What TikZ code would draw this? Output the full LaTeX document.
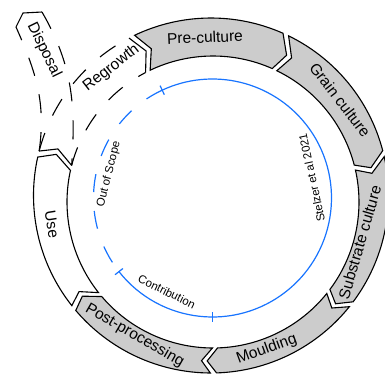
\documentclass[tikz,border=0pt]{standalone}
\usepackage{fontspec}
\setmainfont{Liberation Sans}
\usetikzlibrary{calc}
\definecolor{segfill}{gray}{0.8}
\definecolor{scopeblue}{RGB}{24,116,255}
\tikzset{
  segshape/.style={draw=black, fill=segfill, line width=1.1pt, line join=miter},
  useshape/.style={draw=black, fill=white, line width=1.1pt, line join=miter},
  dashline/.style={draw=black, line width=1.1pt, dash pattern=on 19pt off 19pt},
  solidline/.style={draw=black, line width=1.1pt, line join=miter},
  blueline/.style={draw=scopeblue, line width=1.2pt},
  seglabel/.style={font=\fontsize{15.5}{17}\selectfont, inner sep=0pt},
  smalllabel/.style={font=\fontsize{11.5}{13}\selectfont, inner sep=0pt},
}
\newcommand\ringseg[4]{%
  \draw[#1] ([shift={(-1,3.5)}]#2:177.5pt) arc[start angle=#2, end angle=#3, radius=177.5pt]
    -- ({#3-#4}:162pt) -- ([shift={(1,-3)}]#3:146pt)
    arc[start angle=#3, end angle=#2, radius=146pt] -- ({#2-#4}:162pt) -- cycle;}
\begin{document}
\begin{tikzpicture}[x=1pt,y=1pt]
\useasboundingbox (-212,-177) rectangle (173,199);
\clip (-212,-177) rectangle (173,199);
\fill[white] (-212,-177) rectangle (173,199);
% ring segments
\ringseg{segshape}{115.5}{66.07}{3.5}
\ringseg{segshape}{64.07}{14.64}{3.5}
\ringseg{segshape}{12.64}{-36.79}{3.5}
\ringseg{segshape}{-38.79}{-88.21}{3.5}
\ringseg{segshape}{-90.21}{-139.64}{3.5}
\ringseg{useshape}{-141.64}{-192.5}{3.5}
% regrowth (dashed)
\coordinate (L0) at ([shift={(-1,3.5)}]165.5:177.5pt);
\coordinate (R0) at ([shift={(1,-3)}]165.5:146pt);
\coordinate (N0) at (162:162pt);
\coordinate (RgO) at ([shift={(-1,3.5)}]117.5:177.5pt);
\coordinate (RgI) at ([shift={(1,-3)}]117.5:146pt);
\coordinate (RgT) at (114:162pt);
\draw[dashline] (L0) arc[start angle=165.5, end angle=117.5, radius=177.5pt];
\draw[dashline] (R0) arc[start angle=165.5, end angle=117.5, radius=146pt];
\draw[solidline] (RgO) -- (RgT) -- (RgI);
\draw[solidline] (L0) -- (N0) -- (R0);
% disposal (dashed)
\coordinate (HL) at (-196,172);
\coordinate (HT) at (-189,186);
\coordinate (HR) at (-170,187);
\draw[dashline] (L0) to[out=82,in=-66] (HL);
\draw[dashline] (HR) to[out=-60,in=86] (R0);
\draw[solidline] (HL) -- (HT) -- (HR);
% blue scope circle
\draw[blueline] ([shift={(0.5,1)}]-141.5:119pt) arc[start angle=-141.5, end angle=115, radius=119pt];
\draw[blueline, dash pattern=on 18pt off 19pt] ([shift={(0.5,1)}]115:119pt) arc[start angle=115, end angle=218.5, radius=119pt];
\foreach \a in {115,-90,-141.8}{
  \draw[blueline] ([shift={(0.5,1)}]\a:114pt) -- ([shift={(0.5,1)}]\a:124pt);
}
% labels
\node[seglabel, rotate=2.5] (pre) at (92.5:162pt) {Pre-culture};
\node[seglabel, rotate=-52.3] (grain) at (37.7:162pt) {Grain culture};
\node[seglabel, rotate=73.7] (sub) at (-16.3:154pt) {Substrate culture};
\node[seglabel, rotate=20] (mould) at (-70:160pt) {Moulding};
\node[seglabel, rotate=-30] (post) at (-119.5:157pt) {Post-processing};
\node[seglabel, rotate=-81] (use) at (189:162pt) {Use};
\node[seglabel, rotate=38] (regrow) at (127.6:165pt) {Regrowth};
\node[seglabel, rotate=-64] (disp) at (-168,149) {Disposal};
\node[smalllabel, rotate=76] (oos) at (166.5:106pt) {Out of Scope};
\node[smalllabel, rotate=-26] (contr) at (-116:103pt) {Contribution};
\node[smalllabel, rotate=102] (stel) at (12:102pt) {Stelzer et al 2021};
\end{tikzpicture}
\end{document}
